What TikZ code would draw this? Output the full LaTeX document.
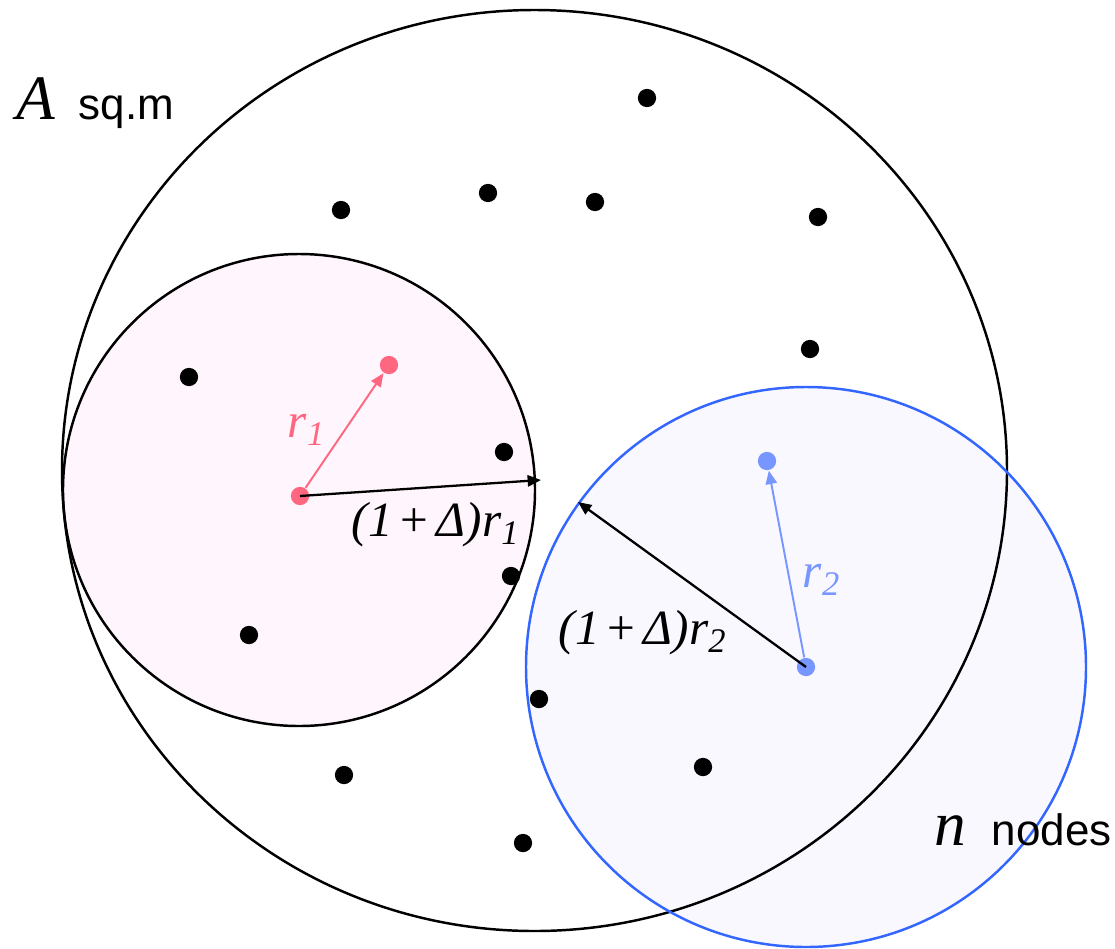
\documentclass[tikz,border=0pt]{standalone}
\usepackage{fontspec}
\setmainfont{Liberation Serif}
\setsansfont{Liberation Sans}
\usetikzlibrary{arrows.meta,positioning}
\definecolor{pinkfill}{RGB}{255,245,252}
\definecolor{redpt}{RGB}{255,102,128}
\definecolor{blueline}{RGB}{51,102,255}
\definecolor{bluefill}{RGB}{248,248,254}
\definecolor{bluept}{RGB}{120,150,255}

\begin{document}
\begin{tikzpicture}[x=0.01cm,y=-0.01cm,
  dot/.style={circle,fill=black,inner sep=0pt,minimum size=5.2pt},
  rdot/.style={dot,fill=redpt},
  bdot/.style={dot,fill=bluept},
  tip/.style={-{Triangle[length=3.8pt,width=3.2pt]}},
  lbl/.style={font=\fontsize{14}{16}\selectfont\itshape},
  big/.style={font=\fontsize{18}{20}\selectfont\itshape},
  txt/.style={font=\fontsize{12.5}{15}\selectfont\sffamily,inner sep=0pt}]
\useasboundingbox (0,0) rectangle (1115,948);
\fill[pinkfill] (299,490) circle[radius=236];
\fill[bluefill] (806,667) circle[radius=280];
\draw[line width=0.7pt] (534.5,470.5) ellipse[x radius=472.5,y radius=460.5];
\draw[line width=0.7pt] (299,490) circle[radius=236];
\draw[blueline,line width=0.7pt] (806,667) circle[radius=280];

\foreach \x/\y [count=\i] in {647/98,341/210,488/193,595/202,818/217,810/349,189/377,
  504/452,511/576,249/635,539/699,344/775,703/767,523/843}
  \node[dot] (n\i) at (\x,\y) {};

\node[rdot] (c1) at (300,496) {};
\node[rdot] (p1) at (389,365) {};
\node[bdot] (c2) at (806,667) {};
\node[bdot] (p2) at (767,461) {};
\coordinate (e1) at (541,480);
\coordinate (e2) at (578,502);

\draw[tip,redpt,line width=0.55pt] (c1) -- (p1);
\draw[tip,bluept,line width=0.55pt] (c2) -- (p2);
\draw[tip,line width=0.65pt] (c1.center) -- (e1);
\draw[tip,line width=0.65pt] (c2.center) -- (e2);

\node[lbl,text=redpt] (r1) at (307,430) {r\textsubscript{1}};
\node[lbl] (d1) at (436,525) {(1\,{\upshape+}\,Δ)r\textsubscript{1}};
\node[lbl,text=bluept] (r2) at (822,580) {r\textsubscript{2}};
\node[lbl] (d2) at (643,633) {(1\,{\upshape+}\,Δ)r\textsubscript{2}};

\node[big,anchor=base] (A) at (36,119) {A};
\node[txt,anchor=base west] (sqm) at (78,119) {sq.m};
\node[big,anchor=base] (n) at (950,845) {n};
\node[txt,anchor=base west] (nodes) at (991,845) {nodes};
\end{tikzpicture}
\end{document}
